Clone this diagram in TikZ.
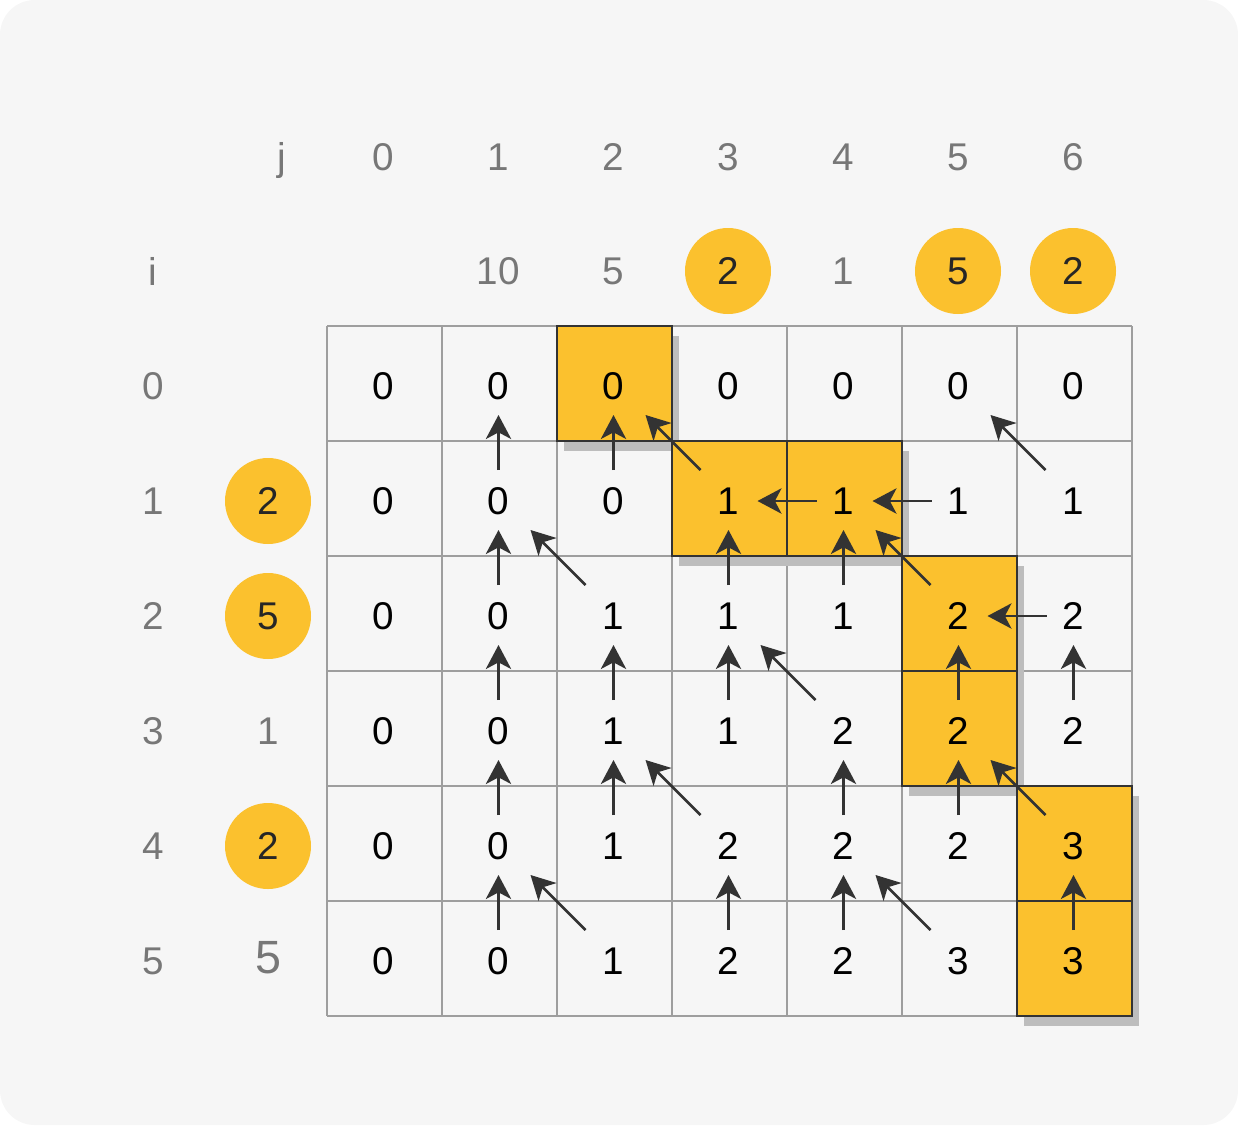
\documentclass[tikz,border=0pt]{standalone}
\usepackage{fontspec}
\setmainfont{Liberation Sans}
\usetikzlibrary{arrows.meta,calc}
\definecolor{dpyellow}{HTML}{FBC12E}
\definecolor{dpbg}{HTML}{F6F6F6}
\definecolor{dpgrid}{HTML}{9E9E9E}
\definecolor{dpdark}{HTML}{333333}
\definecolor{dplabel}{HTML}{777777}
\definecolor{dpshadow}{HTML}{BDBDBD}

\begin{document}
\begin{tikzpicture}[x=0.75pt, y=-0.75pt,
    cell/.style={inner sep=0pt, font=\fontsize{29}{34}\selectfont, text=black},
    lbl/.style={inner sep=0pt, font=\fontsize{29}{34}\selectfont, text=dplabel},
    pick/.style={circle, fill=dpyellow, minimum size=64.5pt, inner sep=0pt, font=\fontsize{29}{34}\selectfont, text=black!85},
    hit/.style={fill=dpyellow, draw=dpdark, line width=2.2pt},
    arr/.style={-{Stealth[length=18pt, width=19pt, inset=5pt]}, draw=dpdark, line width=2pt}
  ]
  \useasboundingbox (0,0) rectangle (1238,1125);
  \fill[dpbg, rounded corners=26pt] (0,0) rectangle (1238,1125);

  \foreach \k in {0,...,7}
    \draw[dpgrid, line width=1.5pt] (327+115*\k,326) -- (327+115*\k,1016);
  \foreach \k in {0,...,6}
    \draw[dpgrid, line width=1.5pt] (327,326+115*\k) -- (1132,326+115*\k);

  \foreach \r/\c in {0/2,1/3,1/4,2/5,3/5,4/6,5/6}
    \fill[dpshadow] (334+115*\c,336+115*\r) rectangle ++(115,115);
  \foreach \r/\c in {0/2,1/3,1/4,2/5,3/5,4/6,5/6}
    \draw[hit] (327+115*\c,326+115*\r) rectangle ++(115,115);

  \foreach \row [count=\r from 0] in {{0,0,0,0,0,0,0},{0,0,0,1,1,1,1},{0,0,1,1,1,2,2},
                                      {0,0,1,1,2,2,2},{0,0,1,2,2,2,3},{0,0,1,2,2,3,3}}
    \foreach \v [count=\c from 0] in \row
      \node[cell] (v-\r-\c) at (383.5+115*\c,386+115*\r) {\v};

  \node[lbl, anchor=base] (jlab) at (282,170) {j};
  \foreach \c in {0,...,6}
    \node[lbl] (j-\c) at (383.5+115*\c,157) {\c};
  \node[lbl, anchor=base] (ilab) at (153,285) {i};
  \foreach \r in {0,...,5}
    \node[lbl] (i-\r) at (153,386+115*\r) {\r};

  \node[lbl] (w-1) at (498,271) {10};
  \node[lbl] (w-2) at (613,271) {5};
  \node[pick] (w-3) at (728,271) {2};
  \node[lbl] (w-4) at (843,271) {1};
  \node[pick] (w-5) at (958,271) {5};
  \node[pick] (w-6) at (1073,271) {2};

  \node[pick] (u-1) at (268,501) {2};
  \node[pick] (u-2) at (268,616) {5};
  \node[lbl] (u-3) at (268,731) {1};
  \node[pick] (u-4) at (268,846) {2};
  \node[lbl, font=\fontsize{35}{40}\selectfont] (u-5) at (268,958) {5};

  \foreach \a/\b in {1-1/0-1,1-2/0-2,2-1/1-1,2-3/1-3,2-4/1-4,3-1/2-1,3-2/2-2,3-3/2-3,3-5/2-5,
                     3-6/2-6,4-1/3-1,4-2/3-2,4-4/3-4,4-5/3-5,5-1/4-1,5-3/4-3,5-4/4-4,5-6/4-6}
    \draw[arr] ($(v-\a)+(0,-31)$) -- ($(v-\b)+(0,29)$);
  \foreach \a/\b in {1-3/0-2,1-6/0-5,2-2/1-1,2-5/1-4,3-4/2-3,4-3/3-2,4-6/3-5,5-2/4-1,5-5/4-4}
    \draw[arr] ($(v-\a)+(-28,-31)$) -- ($(v-\b)+(32,29)$);
  \foreach \a/\b in {1-4/1-3,1-5/1-4,2-6/2-5}
    \draw[arr] ($(v-\a)+(-27,0)$) -- ($(v-\b)+(29,0)$);
\end{tikzpicture}
\end{document}
